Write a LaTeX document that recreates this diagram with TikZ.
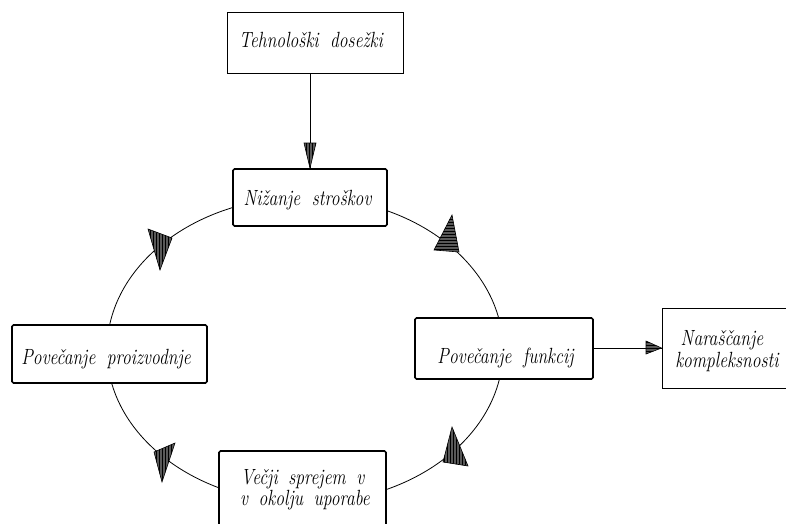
\documentclass[tikz,border=0pt]{standalone}
\usetikzlibrary{patterns}
\newcommand\sqz[1]{\scalebox{0.8}[1]{#1}}
\begin{document}
\begin{tikzpicture}[x=1pt,y=-1pt,
  thinbox/.style={draw, line width=0.9pt, fill=white, inner sep=0pt},
  thickbox/.style={draw, line width=1.7pt, fill=white, rounded corners=1.5pt, inner sep=0pt},
  lbl/.style={font=\fontsize{22}{26}\selectfont\itshape, inner sep=0pt, anchor=base},
  conn/.style={line width=0.8pt},
  headv/.style={draw, line width=0.6pt, fill=black!65, postaction={pattern=vertical lines, pattern color=black}},
  headh/.style={draw, line width=0.6pt, fill=black!65, postaction={pattern=horizontal lines, pattern color=black}}
]
\useasboundingbox (0,0) rectangle (786,523);
\fill[white] (0,0) rectangle (786,523);

% cycle
\draw[conn] (305,350) ellipse [x radius=198pt, y radius=153pt];

% boxes
\node[thinbox, minimum width=176pt, minimum height=61pt] (teh) at (315,42.5) {};
\node[thickbox, minimum width=154pt, minimum height=57pt] (nz) at (310,197.5) {};
\node[thickbox, minimum width=178pt, minimum height=61pt] (pf) at (504,348.5) {};
\node[thickbox, minimum width=195pt, minimum height=58pt] (pp) at (109.5,354) {};
\node[thickbox, minimum width=167pt, minimum height=90pt] (vs) at (302.5,496) {};
\node[thinbox, minimum width=140pt, minimum height=80pt] (nk) at (732,348) {};

% labels
\node[lbl] (tehT) at (311,47) {\sqz{Tehnološki\hspace{0.3em} dosežki}};
\node[lbl] (nzT) at (307.5,205) {\sqz{Nižanje\hspace{0.3em} stroškov}};
\node[lbl] (pfT) at (505.5,363) {\sqz{Povečanje\hspace{0.3em} funkcij}};
\node[lbl] (ppT) at (106,364) {\sqz{Povečanje\hspace{0.3em} proizvodnje}};
\node[lbl] (vsT1) at (302.5,484) {\sqz{Večji\hspace{0.25em} sprejem\hspace{0.25em} v}};
\node[lbl] (vsT2) at (305,505) {\sqz{v\hspace{0.25em} okolju\hspace{0.25em} uporabe}};
\node[lbl] (nkT1) at (722,345) {\sqz{Naraščanje}};
\node[lbl] (nkT2) at (727,367) {\sqz{kompleksnosti}};

% connectors
\coordinate (tehB) at (teh.south -| nz.north);
\draw[conn] (tehB) -- (nz.north);
\coordinate (pfR) at (pf.east |- 0,348);
\coordinate (nkL) at (nk.west |- 0,348);
\draw[conn] (pfR) -- (nkL);

% arrowheads
\draw[headv] (304,143) -- (316,143) -- (nz.north) -- cycle;
\draw[headh] (646,341) -- (646,354) -- (nkL) -- cycle;
\draw[headh] (434,250) -- (459,252) -- (452,215) -- cycle;
\draw[headv] (148,229) -- (172,238) -- (160,270) -- cycle;
\draw[headv] (154,452) -- (175,443) -- (162,482) -- cycle;
\draw[headv] (443,462) -- (468,466) -- (452,427) -- cycle;
\end{tikzpicture}
\end{document}
